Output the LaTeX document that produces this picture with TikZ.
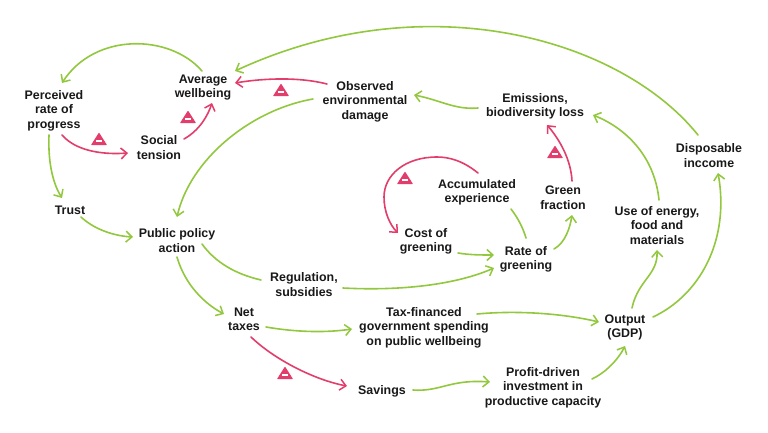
\documentclass[tikz,border=0pt]{standalone}
\usepackage{fontspec}
\setmainfont{Liberation Sans}
\usetikzlibrary{arrows.meta}
\definecolor{lnkgreen}{HTML}{92C83E}
\definecolor{lnkred}{HTML}{E23D6B}
\newcommand{\Pt}[3]{([shift={(#2,#3-1.5)}]#1.center)}
\newcommand{\neglabel}[2]{%
  \fill[lnkred,rounded corners=0.6pt] (#1-8,#2+6) -- (#1,#2-6.5) -- (#1+8,#2+6) -- cycle;
  \fill[white] (#1-3.2,#2+0.8) rectangle (#1+3.2,#2+2.8);}
\tikzset{
  x=1pt,y=-1pt,
  lbl/.style={align=center,inner sep=0pt,yshift=-1.5pt,font=\fontsize{12.4}{14.5}\selectfont\bfseries,text=black!90},
  glink/.style={draw=lnkgreen,line width=1.6pt,line cap=round},
  rlink/.style={draw=lnkred,line width=1.6pt,line cap=round},
  tipped/.style={-{Straight Barb[length=6pt,width=11pt,line width=1.5pt]}}
}
\begin{document}
\begin{tikzpicture}
\fill[white] (0,0) rectangle (768,432);
\useasboundingbox (0,0) rectangle (768,432);
\node[lbl] (av) at (203,86) {Average\\wellbeing};
\node[lbl] (pr) at (54,109) {Perceived\\rate of\\progress};
\node[lbl] (so) at (159,146) {Social\\tension};
\node[lbl] (ob) at (365,100) {Observed\\environmental\\damage};
\node[lbl] (tr) at (70,209) {Trust};
\node[lbl] (pp) at (177,239) {Public policy\\action};
\node[lbl] (em) at (535,105) {Emissions,\\biodiversity loss};
\node[lbl] (di) at (709,154) {Disposable\\inccome};
\node[lbl] (ac) at (477,191) {Accumulated\\experience};
\node[lbl] (gf) at (563,196) {Green\\fraction};
\node[lbl] (us) at (657,224) {Use of energy,\\food and\\materials};
\node[lbl] (co) at (426,240) {Cost of\\greening};
\node[lbl] (ra) at (526,258) {Rate of\\greening};
\node[lbl] (re) at (304,283) {Regulation,\\subsidies};
\node[lbl] (ne) at (244,318) {Net\\taxes};
\node[lbl] (ta) at (424,326) {Tax-financed\\government spending\\on public wellbeing};
\node[lbl] (ou) at (625,326) {Output\\(GDP)};
\node[lbl] (sa) at (382,390) {Savings};
\node[lbl] (pd) at (543,386) {Profit-driven\\investment in\\productive capacity};

\draw[glink,tipped] \Pt{av}{-1}{-15} .. controls (170,34) and (95,32) .. \Pt{pr}{8}{-26};
\draw[rlink,tipped] \Pt{so}{25}{-7} .. controls (200,130) and (208,115) .. \Pt{av}{9}{17};
\draw[rlink,tipped] \Pt{pr}{8}{26} .. controls (75,150) and (100,155) .. \Pt{so}{-31}{7};
\draw[rlink,tipped] \Pt{ob}{-38}{-16} .. controls (300,77) and (265,78) .. \Pt{av}{32}{-3};
\draw[glink,tipped] \Pt{di}{-11}{-19} .. controls (620,38) and (425,-17) .. \Pt{av}{32}{-15};
\draw[glink,tipped] \Pt{ob}{-52}{-1} .. controls (250,110) and (190,160) .. \Pt{pp}{0}{-22};
\draw[glink,tipped] \Pt{em}{-57}{3} .. controls (455,110) and (440,100) .. \Pt{ob}{49}{-5};
\draw[glink,tipped] \Pt{us}{2}{-24} .. controls (655,160) and (630,130) .. \Pt{em}{58}{10};
\draw[rlink,tipped] \Pt{gf}{9}{-15} .. controls (571,160) and (560,140) .. \Pt{em}{12}{20};
\draw[rlink,tipped] \Pt{ac}{1}{-18} .. controls (462,160) and (448,157) .. (437,157) .. controls (405,157) and (384,175) .. (384,197) .. controls (384,212) and (390,225) .. \Pt{co}{-28}{-7};
\draw[glink] \Pt{ac}{34}{18} .. controls (518,218) and (523,228) .. \Pt{ra}{0}{-20};
\draw[glink,tipped] \Pt{co}{32}{13} .. controls (470,255) and (482,255) .. \Pt{ra}{-32}{-3};
\draw[glink,tipped] \Pt{re}{39}{5} .. controls (400,291) and (455,285) .. \Pt{ra}{-32}{10};
\draw[glink,tipped] \Pt{ra}{28}{-9} .. controls (565,243) and (570,228) .. \Pt{gf}{9}{19};
\draw[glink] \Pt{pp}{25}{5} .. controls (215,262) and (235,274) .. \Pt{re}{-43}{-3};
\draw[glink,tipped] \Pt{pp}{0}{18} .. controls (185,285) and (205,304) .. \Pt{ne}{-20}{-4};
\draw[glink,tipped] \Pt{tr}{11}{8} .. controls (95,230) and (115,236) .. \Pt{pp}{-44}{-2};
\draw[glink,tipped] \Pt{pr}{-5}{26} .. controls (48,160) and (52,182) .. \Pt{tr}{-8}{-11};
\draw[glink,tipped] \Pt{ne}{22}{9} .. controls (295,332) and (325,333) .. \Pt{ta}{-72}{3};
\draw[rlink,tipped] \Pt{ne}{7}{19} .. controls (275,360) and (315,380) .. \Pt{sa}{-35}{-4};
\draw[glink,tipped] \Pt{sa}{31}{0} .. controls (440,392) and (450,379) .. \Pt{pd}{-53}{-4};
\draw[glink,tipped] \Pt{ta}{53}{-12} .. controls (520,310) and (565,314) .. \Pt{ou}{-26}{-4};
\draw[glink,tipped] \Pt{pd}{49}{-7} .. controls (605,373) and (618,360) .. \Pt{ou}{0}{20};
\draw[glink,tipped] \Pt{ou}{7}{-18} .. controls (638,280) and (658,275) .. \Pt{us}{0}{26};
\draw[glink,tipped] \Pt{ou}{28}{-9} .. controls (700,295) and (730,240) .. \Pt{di}{9}{19};

\neglabel{99}{139}
\neglabel{188}{117}
\neglabel{281}{90}
\neglabel{405}{178}
\neglabel{555}{152}
\neglabel{285}{373}
\end{tikzpicture}
\end{document}
